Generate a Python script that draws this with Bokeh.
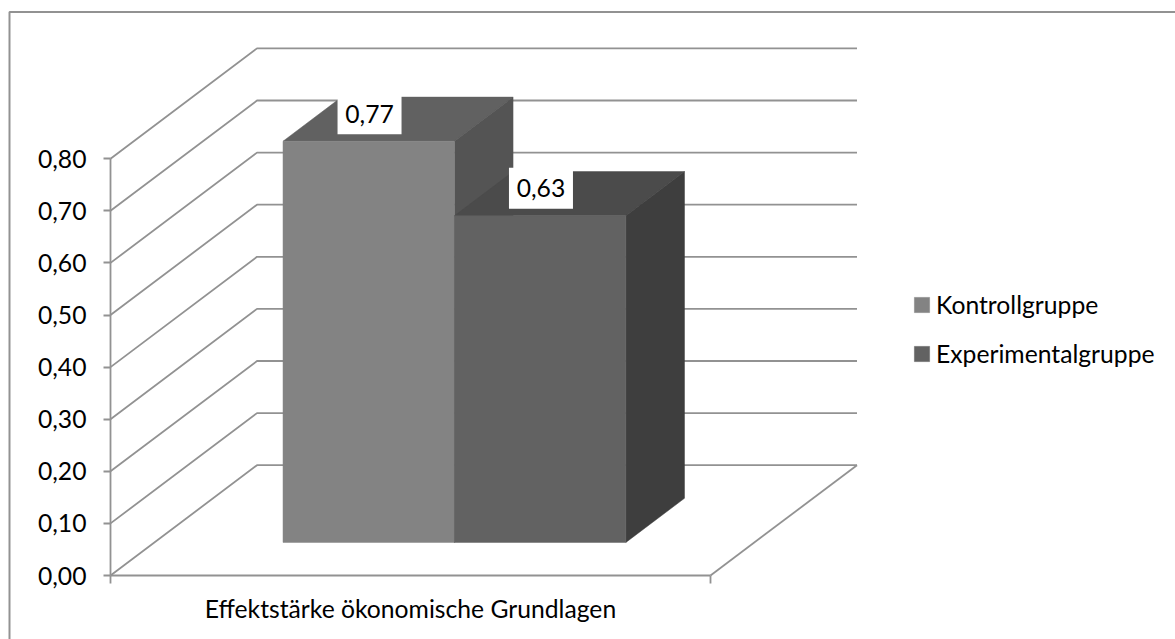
from bokeh.plotting import figure
from bokeh.models import (BoxAnnotation, FixedTicker, Legend, LegendItem,
                          LinearAxis, Range1d)
from bokeh.core.properties import value
from bokeh.embed import file_html
from bokeh.resources import INLINE

category = "Effektstärke ökonomische Grundlagen"
series_names = ["Kontrollgruppe", "Experimentalgruppe"]
values = [0.77, 0.627]
value_labels = ["0,77", "0,63"]
tick_values = [0.0, 0.1, 0.2, 0.3, 0.4, 0.5, 0.6, 0.7, 0.8]
tick_labels = ["0,00", "0,10", "0,20", "0,30", "0,40", "0,50", "0,60", "0,70", "0,80"]
front_colors = ["#838383", "#626262"]
top_colors = ["#616161", "#4b4b4b"]
side_colors = ["#545454", "#3e3e3e"]

FONT = "Lato"
FS = "24.7px"
GRID = "#929292"
LW = 1.8

W, H = 1175, 639
ML, MB = 110, 64
PX_X = 600.0      # pixels per category width
PX_Y = 521.0      # pixels per unit of value
DX = 146.5 / PX_X  # wall depth, expressed in data units
DY = 110.3 / PX_Y
GAP = 1.5          # gap width / depth gap, in bar widths

p = figure(width=W, height=H, output_backend="svg", toolbar_location=None,
           x_range=Range1d(-ML / PX_X, (W - ML) / PX_X),
           y_range=Range1d(-MB / PX_Y, (H - MB) / PX_Y),
           min_border=0,
           x_axis_type=None, y_axis_type=None, outline_line_color=None)
p.grid.visible = False

# outer frame
p.add_layout(BoxAnnotation(left=9, right=2000, top=11.5, bottom=2000,
                           left_units="canvas", right_units="canvas",
                           top_units="canvas", bottom_units="canvas",
                           fill_alpha=0, line_color=GRID, line_alpha=1, line_width=2))

# walls
for v in tick_values:
    p.line([0, DX, 1 + DX], [v, v + DY, v + DY], line_color=GRID, line_width=LW)
p.line([1, 1 + DX], [0, DY], line_color=GRID, line_width=LW)

# bars
bar_w = 1 / (len(values) + GAP)
depth = 1 / (1 + GAP)
d_front = GAP / 2 * depth
ox, oy = DX * d_front, DY * d_front
bx, by = DX * depth, DY * depth
fronts = []
centers = []
for i, v in enumerate(values):
    l = bar_w * (GAP / 2 + i) + ox
    r = l + bar_w
    b = oy
    t = oy + v
    p.patch([l, r, r + bx, l + bx], [t, t, t + by, t + by],
            fill_color=top_colors[i], line_color=top_colors[i], line_width=0.5)
    p.patch([r, r + bx, r + bx, r], [b, b + by, t + by, t],
            fill_color=side_colors[i], line_color=side_colors[i], line_width=0.5)
    fronts.append(p.quad(left=[l], right=[r], bottom=[b], top=[t],
                         fill_color=front_colors[i], line_color=front_colors[i], line_width=0.5))
    centers.append(((l + r + bx) / 2 - 28.5 / PX_X, t + by / 2 + 5.5 / PX_Y))

# value labels on white
p.rect([c[0] for c in centers], [c[1] for c in centers], width=64, height=41,
       width_units="screen", height_units="screen", fill_color="white", line_color=None)
p.text([c[0] for c in centers], [c[1] for c in centers], text=value_labels,
       text_font=value(FONT), text_font_size=value(FS), text_color="black",
       text_align="center", text_baseline="middle")

# axes, fixed inside the full-canvas frame at the origin of the 3D box
yax = LinearAxis(fixed_location=0, ticker=FixedTicker(ticks=tick_values), bounds=(0, 0.8),
                 major_label_overrides=dict(zip(tick_values, tick_labels)),
                 major_tick_in=0, major_tick_out=7, minor_tick_out=0, minor_tick_in=0,
                 major_tick_line_color=GRID, major_tick_line_width=LW,
                 axis_line_color=GRID, axis_line_width=LW,
                 major_label_standoff=17, major_label_text_font=FONT,
                 major_label_text_font_size=FS, major_label_text_color="black")
p.add_layout(yax, "left")

xax = LinearAxis(fixed_location=0, ticker=FixedTicker(ticks=[0.5], minor_ticks=[0, 1]), bounds=(0, 1),
                 major_tick_in=0, major_tick_out=0, minor_tick_in=0, minor_tick_out=8,
                 minor_tick_line_color=GRID, minor_tick_line_width=LW,
                 axis_line_color=GRID, axis_line_width=LW,
                 major_label_overrides={0.5: category},
                 major_label_standoff=10, major_label_text_font=FONT,
                 major_label_text_font_size=FS, major_label_text_color="black")
p.add_layout(xax, "below")

# legend
legend = Legend(items=[LegendItem(label=value(n), renderers=[r]) for n, r in zip(series_names, fronts)],
                location=(ML + 802, MB + 207), orientation="vertical",
                padding=0, margin=0, spacing=20, glyph_width=19, glyph_height=19,
                label_standoff=5, label_height=28, label_width=224,
                label_text_font=FONT, label_text_font_size=FS, label_text_color="black",
                background_fill_alpha=0, border_line_color=None)
p.add_layout(legend, "center")

open("out.html", "w").write(file_html(p, INLINE))
